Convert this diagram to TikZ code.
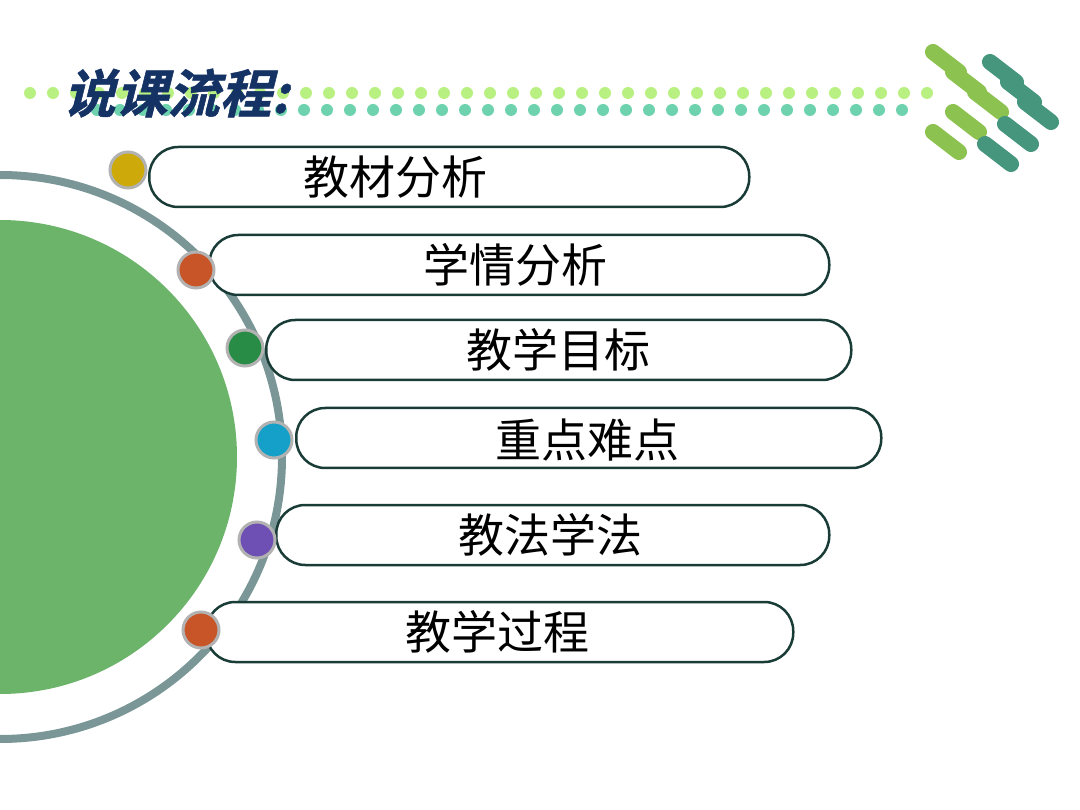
\documentclass[tikz,border=0pt]{standalone}
\usepackage{fontspec}
\newfontfamily\cjk{Noto Sans CJK SC}
\newfontfamily\cjkt[FakeSlant=0.25,FakeBold=1]{Noto Sans CJK SC Bold}
\definecolor{dotg}{RGB}{185,240,130}
\definecolor{dott}{RGB}{110,210,175}
\definecolor{cg}{RGB}{140,195,80}
\definecolor{ct}{RGB}{70,150,125}
\definecolor{pillc}{RGB}{25,60,55}
\definecolor{titlec}{RGB}{20,50,100}
\definecolor{bigg}{RGB}{107,180,106}
\definecolor{ringc}{RGB}{122,150,150}
\definecolor{b1c}{RGB}{205,170,10}
\definecolor{b2c}{RGB}{200,85,40}
\definecolor{b3c}{RGB}{40,140,70}
\definecolor{b4c}{RGB}{20,160,200}
\definecolor{b5c}{RGB}{110,80,180}
\begin{document}
\begin{tikzpicture}[x=1pt,y=-1pt,
  pill/.style={draw=pillc,line width=2.5pt,rounded corners=29pt,fill=white},
  lbl/.style={font=\cjk\fontsize{46}{48}\selectfont,text=black},
  ball/.style={circle,minimum size=36pt,draw=gray!60,line width=3pt,inner sep=0pt},
  cylg/.style={line width=16pt,line cap=round,draw=cg},
  cylt/.style={line width=16pt,line cap=round,draw=ct}]
\useasboundingbox (0,0) rectangle (1080,810);
\foreach \i in {0,...,39} \fill[dotg] (30+\i*23,93) circle (6pt);
\foreach \i in {0,...,35} \fill[dott] (97+\i*23,110) circle (6pt);
\foreach \x/\y in {933/52,953/72,975/92,953/112,933/132} \draw[cylg] (\x,\y) -- ++(26,20);
\foreach \x/\y in {990/62,1008/82,1025/102,1005/124,985/144} \draw[cylt] (\x,\y) -- ++(26,20);
\node[font=\cjkt\fontsize{52}{54}\selectfont,text=titlec,anchor=west] (title) at (60,93) {说课流程:};
\fill[bigg] (0,457) circle (237);
\draw[line width=8pt,draw=ringc] (0,175) arc (-90:90:282);
\node[pill,minimum width=600pt,minimum height=60pt,anchor=west] (p1) at (148,177) {};
\node[pill,minimum width=620pt,minimum height=60pt,anchor=west] (p2) at (208,265) {};
\node[pill,minimum width=585pt,minimum height=60pt,anchor=west] (p3) at (265,350) {};
\node[pill,minimum width=585pt,minimum height=60pt,anchor=west] (p4) at (295,438) {};
\node[pill,minimum width=553pt,minimum height=60pt,anchor=west] (p5) at (275,535) {};
\node[pill,minimum width=587pt,minimum height=60pt,anchor=west] (p6) at (205,632) {};
\node[lbl] (t1) at (395,177) {教材分析};
\node[lbl] (t2) at (515,265) {学情分析};
\node[lbl] (t3) at (558,350) {教学目标};
\node[lbl] (t4) at (587,440) {重点难点};
\node[lbl] (t5) at (550,535) {教法学法};
\node[lbl] (t6) at (497,632) {教学过程};
\node[ball,fill=b1c] (b1) at (128,170) {};
\node[ball,fill=b2c] (b2) at (196,270) {};
\node[ball,fill=b3c] (b3) at (245,348) {};
\node[ball,fill=b4c] (b4) at (274,440) {};
\node[ball,fill=b5c] (b5) at (257,540) {};
\node[ball,fill=b2c] (b6) at (201,630) {};
\end{tikzpicture}
\end{document}
